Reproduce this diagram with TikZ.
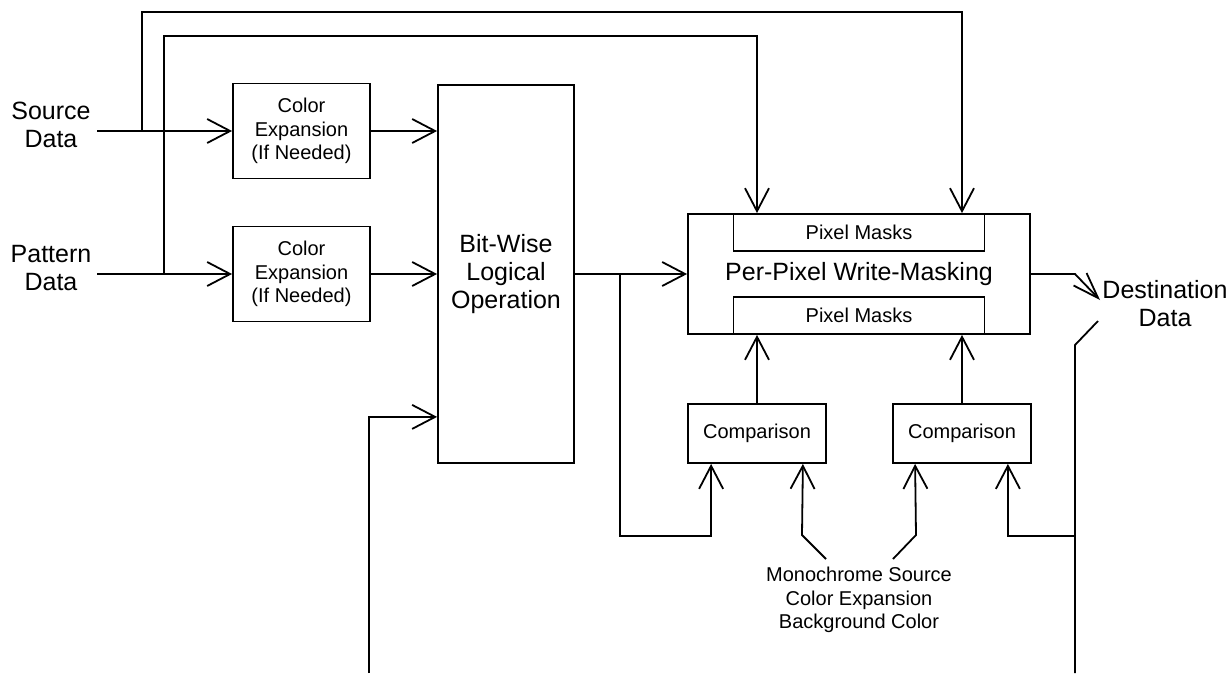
\documentclass[tikz,border=0pt]{standalone}
\usepackage{fontspec}
\setmainfont{Liberation Sans}
\usetikzlibrary{arrows.meta,positioning}

\begin{document}
\begin{tikzpicture}[x=1pt,y=-1pt,line width=1.8pt,
  >={Straight Barb[length=23pt,width=24pt]},
  lbl/.style={align=center,font=\fontsize{25}{28}\selectfont,inner sep=0pt},
  sm/.style={align=center,font=\fontsize{20}{23.5}\selectfont,inner sep=0pt},
  cx/.style={draw,sm,minimum width=137pt,minimum height=95pt},
  cmp/.style={draw,sm,minimum width=138pt,minimum height=59pt},
  pm/.style={draw,sm,minimum width=251pt,minimum height=37pt}]
  \useasboundingbox (0,0) rectangle (1232,673);
  \node[lbl] (src) at (51,125) {Source\\Data};
  \node[lbl] (pat) at (51,268) {Pattern\\Data};
  \node[cx] (cx1) at (301.5,131) {Color\\Expansion\\(If Needed)};
  \node[cx] (cx2) at (301.5,274) {Color\\Expansion\\(If Needed)};
  \node[draw,lbl,minimum width=136pt,minimum height=378pt] (bw) at (506,274) {Bit-Wise\\Logical\\Operation};
  \node[draw,lbl,minimum width=342pt,minimum height=120pt] (ppw) at (859,274) {Per-Pixel Write-Masking};
  \node[pm,anchor=north] (pm1) at (ppw.north) {Pixel Masks};
  \node[pm,anchor=south] (pm2) at (ppw.south) {Pixel Masks};
  \node[cmp] (cmp1) at (757,433.5) {Comparison};
  \node[cmp] (cmp2) at (962,433.5) {Comparison};
  \node[lbl] (dst) at (1165,304) {Destination\\Data};
  \node[sm] (mono) at (859,600) {Monochrome Source\\Color Expansion\\Background Color};
  \coordinate (srcin) at (97,131);
  \coordinate (patin) at (97,274);
  \coordinate (s1) at (142,131);
  \coordinate (stop) at (142,12);
  \coordinate (p1) at (164,274);
  \coordinate (ptop) at (164,36);
  \coordinate (fb) at (369,673);
  \coordinate (b1) at (620,274);
  \coordinate (b2) at (620,536);
  \coordinate (m1) at (826,559);
  \coordinate (m2) at (893,559);
  \coordinate (r0) at (1075,673);
  \coordinate (r1) at (1075,345);
  \coordinate (r2) at (1098,321);
  \coordinate (r3) at (1075,536);
  \coordinate (o1) at (1075,274);
  \draw[->] (srcin)--(cx1.west);\draw[->] (patin)--(cx2.west);
  \draw[->] (cx1.east)--(cx1.east -| bw.west);
  \draw[->] (cx2.east)--(cx2.east -| bw.west);
  \draw[->] (s1)--(stop) -| (cmp2 |- ppw.north);
  \draw[->] (p1)--(ptop) -| (cmp1 |- ppw.north);
  \draw[->] (fb) |- ([yshift=47pt]bw.south west);
  \draw[->] (bw)--(ppw);
  \draw[->] (b1)--(b2) -| ([xshift=24pt]cmp1.south west);
  \draw[->] (cmp1)--(cmp1 |- ppw.south);\draw[->] (cmp2)--(cmp2 |- ppw.south);
  \draw[->] (m1)--++(-24,-24)--([xshift=-24pt]cmp1.south east);
  \draw[->] (m2)--++(23,-24)--([xshift=23pt]cmp2.south west);
  \draw (r0)--(r1)--(r2);
  \draw[->] (r3) -| ([xshift=-24pt]cmp2.south east);
  \draw[-{Straight Barb[length=26pt,width=18pt]}] (ppw.east)--(o1)--++(25,26);
\end{tikzpicture}
\end{document}
